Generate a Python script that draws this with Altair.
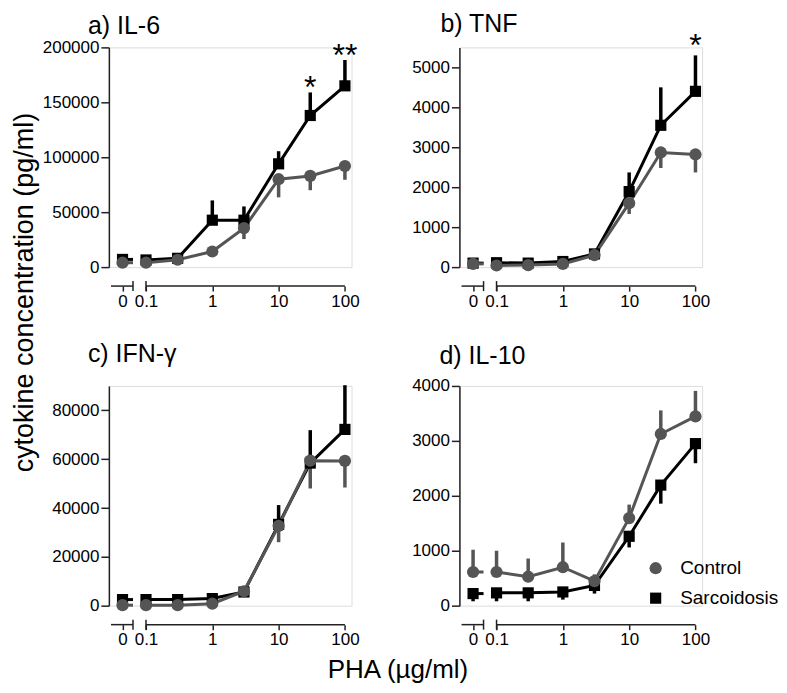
import math
import altair as alt
import pandas as pd

FONT = "Liberation Sans"

# ---------------- data ----------------
doses = [0, 0.1, 0.3, 1, 3, 10, 30, 100]
tick_doses = [0, 0.1, 1, 10, 100]
tick_labels = ["0", "0.1", "1", "10", "100"]
groups = ["Control", "Sarcoidosis"]

# a) IL-6
il6_control = [4000, 4000, 6700, 14200, 35500, 80000, 83000, 92000]
il6_control_sem = [1000, 1000, 1500, 2000, 10000, 16500, 13000, 12500]
il6_sarc = [7000, 6500, 8000, 42700, 42700, 94000, 138000, 165000]
il6_sarc_sem = [1500, 1500, 2000, 18000, 12500, 11500, 21000, 23500]
il6_sig = ["", "", "", "", "", "", "*", "**"]

# b) TNF
tnf_control = [80, 40, 50, 80, 300, 1600, 2870, 2820]
tnf_control_sem = [20, 20, 20, 20, 40, 270, 390, 450]
tnf_sarc = [100, 110, 100, 140, 330, 1890, 3550, 4400]
tnf_sarc_sem = [30, 30, 30, 30, 50, 480, 950, 900]
tnf_sig = ["", "", "", "", "", "", "", "*"]

# c) IFN-gamma
ifn_control = [200, 200, 200, 800, 5900, 32700, 59400, 59300]
ifn_control_sem = [100, 100, 100, 200, 500, 6700, 11400, 10900]
ifn_sarc = [2500, 2500, 2500, 2900, 5600, 33300, 58400, 72200]
ifn_sarc_sem = [300, 300, 300, 300, 500, 7900, 13500, 18100]

# d) IL-10
il10_control = [613, 613, 527, 700, 447, 1594, 3126, 3445]
il10_control_sem = [405, 387, 331, 450, 123, 246, 429, 465]
il10_sarc = [220, 233, 233, 250, 368, 1263, 2195, 2950]
il10_sarc_sem = [140, 153, 153, 140, 148, 203, 338, 357]

# ---------------- layout / style ----------------
W, H = 243, 220
AX_OFF = 19
GREY = "#555555"
BLACK = "#000000"
AXC = "#222222"

U_ZERO = -1.354   # where dose 0 sits on the broken axis (in decades)
U_BREAK = -1.196  # end of the first axis segment
U_START = -1.528  # start of the first axis segment
U_MIN, U_MAX = -1.56, 2.1


def pos(d):
    return U_ZERO if d == 0 else math.log10(d)


tick_pos = [pos(d) for d in tick_doses]
label_expr = "".join(
    f"abs(datum.value - ({u:.4f})) < 0.01 ? '{lab}' : " for u, lab in zip(tick_pos, tick_labels)
) + "''"


def panel(title, ctrl, ctrl_sem, ctrl_dir, sarc, sarc_sem, sarc_dir, ymax, ystep,
          sig=None, sig_dy=0, title_offset=10, title_dx=-18,
          legend=False, ytitle=False, xtitle=False):
    rows = []
    for g, vals, sems, sgn in [("Sarcoidosis", sarc, sarc_sem, sarc_dir),
                               ("Control", ctrl, ctrl_sem, ctrl_dir)]:
        for d, v, e in zip(doses, vals, sems):
            rows.append(dict(group=g, dose=d, u=pos(d), v=v, e=v + sgn * e))
    df = pd.DataFrame(rows)

    stub_rows = []
    for g, vals in [("Sarcoidosis", sarc), ("Control", ctrl)]:
        stub_rows.append(dict(group=g, u=pos(0), v=vals[0]))
        stub_rows.append(dict(group=g, u=U_BREAK, v=vals[0]))
    stub = pd.DataFrame(stub_rows)

    xaxis_kw = dict(values=tick_pos, labelExpr=label_expr, offset=AX_OFF, domain=False,
                    tickSize=5, tickWidth=1.5, tickColor=AXC, labelFontSize=17,
                    labelFont=FONT, labelColor="black", labelPadding=2, grid=False,
                    labelOverlap=False, labelFlush=False)
    if xtitle:
        xaxis_kw.update(title="PHA (µg/ml)", titleFontSize=26, titleFont=FONT,
                        titleFontWeight="normal", titleColor="black",
                        titleX=289, titleY=45, titleBaseline="middle", titleAlign="center")
    else:
        xaxis_kw.update(title=None)
    xenc = alt.X("u:Q", scale=alt.Scale(domain=[U_MIN, U_MAX], nice=False, zero=False),
                 axis=alt.Axis(**xaxis_kw))

    yvals = [v for v in range(0, int(ymax) + 1, ystep) if v <= ymax]
    yaxis_kw = dict(values=yvals, format="d", tickSize=8, tickWidth=1.5, tickColor=AXC,
                    domainColor=AXC, domainWidth=1.5, labelFontSize=17, labelFont=FONT,
                    labelColor="black", labelPadding=2, grid=False)
    if ytitle:
        yaxis_kw.update(title="cytokine concentration (pg/ml)", titleFontSize=27,
                        titleFont=FONT, titleFontWeight="normal", titleColor="black",
                        titleX=-84, titleY=245, titleAngle=270, titleAlign="center",
                        titleBaseline="middle")
    else:
        yaxis_kw.update(title=None)
    yenc = alt.Y("v:Q", scale=alt.Scale(domain=[0, ymax], nice=False), axis=alt.Axis(**yaxis_kw))

    layers = []
    for g, col in [("Sarcoidosis", BLACK), ("Control", GREY)]:
        base = alt.Chart(df).transform_filter(alt.datum.group == g)
        layers.append(base.mark_rule(strokeWidth=3.5, color=col).encode(
            x=xenc, y=yenc, y2="e:Q"))
        layers.append(base.transform_filter(alt.datum.dose > 0).mark_line(
            strokeWidth=3, color=col).encode(x=xenc, y=yenc, order="u:Q"))
        layers.append(alt.Chart(stub).transform_filter(alt.datum.group == g).mark_line(
            strokeWidth=3, color=col).encode(x=xenc, y=yenc, order="u:Q"))

    leg = None
    if legend:
        leg = alt.Legend(orient="none", legendX=187, legendY=173, title=None,
                         labelFontSize=19, labelFont=FONT, labelColor="black",
                         symbolSize=150, labelOffset=15, rowPadding=10,
                         symbolStrokeWidth=0, padding=0)
    pts = alt.Chart(df).mark_point(filled=True, opacity=1).encode(
        x=xenc, y=yenc,
        color=alt.Color("group:N", scale=alt.Scale(domain=groups, range=[GREY, BLACK]), legend=leg),
        shape=alt.Shape("group:N", scale=alt.Scale(domain=groups, range=["circle", "square"]), legend=leg),
        size=alt.Size("group:N", scale=alt.Scale(domain=groups, range=[150, 125]), legend=None),
    )
    layers.append(pts)

    if sig:
        sig_df = pd.DataFrame([dict(u=pos(d), v=v + e, lab=s)
                               for d, v, e, s in zip(doses, sarc, sarc_sem, sig) if s])
        layers.append(alt.Chart(sig_df).mark_text(fontSize=32, font=FONT, baseline="alphabetic",
                                                  dy=sig_dy, color="black").encode(
            x=xenc, y=yenc, text="lab:N"))

    seg = pd.DataFrame(dict(u=[U_START, -1.0], u2=[U_BREAK, 2.0]))
    layers.append(alt.Chart(seg).mark_rule(color=AXC, strokeWidth=1.5).encode(
        x=xenc, x2="u2:Q", y=alt.value(H + AX_OFF)))
    caps = pd.DataFrame(dict(u=[U_BREAK, -1.0]))
    layers.append(alt.Chart(caps).mark_rule(color=AXC, strokeWidth=1.5).encode(
        x=xenc, y=alt.value(H + AX_OFF - 5), y2=alt.value(H + AX_OFF + 5)))

    return alt.layer(*layers).properties(
        width=W, height=H,
        title=alt.TitleParams(title, anchor="start", frame="group", dx=title_dx,
                              offset=title_offset, fontSize=25, font=FONT,
                              fontWeight="normal", color="black"))


pa = panel("a) IL-6", il6_control, il6_control_sem, -1, il6_sarc, il6_sarc_sem, 1,
           200000, 50000, sig=il6_sig, sig_dy=6, title_offset=-1, title_dx=-21, ytitle=True)
pb = panel("b) TNF", tnf_control, tnf_control_sem, -1, tnf_sarc, tnf_sarc_sem, 1,
           5500, 1000, sig=tnf_sig, sig_dy=1, title_offset=-7, title_dx=-19)
pc = panel("c) IFN-γ", ifn_control, ifn_control_sem, -1, ifn_sarc, ifn_sarc_sem, 1,
           90000, 20000, title_offset=16, title_dx=-21, xtitle=True)
pd_ = panel("d) IL-10", il10_control, il10_control_sem, 1, il10_sarc, il10_sarc_sem, -1,
            4000, 1000, title_offset=8, title_dx=-20, legend=True)

chart = alt.concat(pa, pb, pc, pd_, columns=2, spacing={"row": 119, "column": 108},
                   bounds="flush", align="all").resolve_scale(
    color="independent", shape="independent", size="independent"
).properties(padding={"left": 2, "top": 3, "right": -1, "bottom": 2}
).configure_view(stroke=None).configure(font=FONT)

chart.save("out.html", embed_options={"renderer": "svg", "actions": False})
